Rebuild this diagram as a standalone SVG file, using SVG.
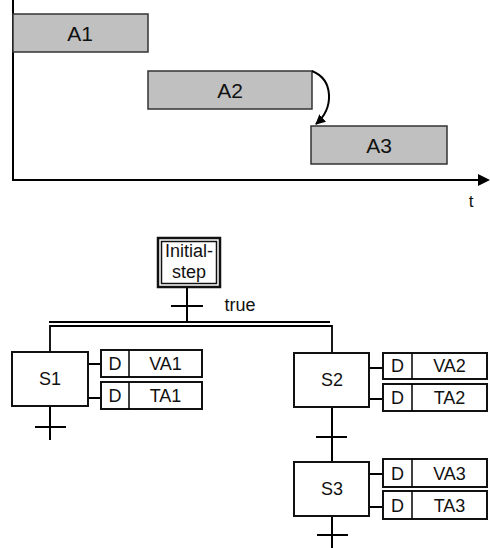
<svg xmlns="http://www.w3.org/2000/svg" width="490" height="548" viewBox="0 0 490 548">
<style>
text{font-family:"Liberation Sans",Arial,sans-serif;fill:#111;text-anchor:middle}
.bar{fill:#c0c0c0;stroke:#333;stroke-width:1.5}
.ln{stroke:#000;stroke-width:2;fill:none}
.box{fill:#fff;stroke:#111;stroke-width:2}
.big{font-size:21px}
.lb{font-size:18px}
</style>
<defs>
<marker id="ah" markerWidth="10" markerHeight="10" refX="9" refY="5" orient="auto" markerUnits="userSpaceOnUse">
<path d="M0,0 L10,5 L0,10 Z" fill="#000"/>
</marker>
</defs>
<g id="timeline">
<line class="ln" x1="13" y1="0" x2="13" y2="181"/>
<line class="ln" x1="12" y1="180" x2="482" y2="180"/>
<polygon points="478,174 490,180 478,186" fill="#000"/>
<text x="471" y="207" style="font-size:17px">t</text>
</g>
<g id="A1"><rect class="bar" x="13" y="14" width="135" height="38"/><text class="big" x="80" y="41">A1</text></g>
<g id="A2"><rect class="bar" x="148" y="71" width="164" height="38"/><text class="big" x="230" y="98">A2</text></g>
<g id="A3"><rect class="bar" x="311" y="126" width="136" height="38"/><text class="big" x="379" y="153">A3</text></g>
<g id="connectors">
<path class="ln" d="M312,71 C334,80 334,108 316,124" marker-end="url(#ah)"/>
<line class="ln" x1="187" y1="288" x2="187" y2="322"/>
<line class="ln" x1="171" y1="306" x2="203" y2="306"/>
<line class="ln" x1="49" y1="322" x2="330" y2="322"/>
<path class="ln" d="M50,352 V326 H332 V353" style="stroke-width:1.8"/>
<line class="ln" x1="50" y1="406" x2="50" y2="440"/>
<line class="ln" x1="35" y1="427" x2="66" y2="427"/>
<line class="ln" x1="332" y1="407" x2="332" y2="462"/>
<line class="ln" x1="316" y1="437" x2="347" y2="437"/>
<line class="ln" x1="332" y1="516" x2="332" y2="548"/>
<line class="ln" x1="317" y1="535" x2="348" y2="535"/>
<path class="ln" d="M88,364 H101 M88,398 H101"/>
<path class="ln" d="M369,368 H383 M369,399 H383"/>
<path class="ln" d="M369,474 H383 M369,507 H383"/>
</g>
<g id="InitialStep">
<rect x="158" y="238" width="62" height="49" fill="#fff" stroke="#111" stroke-width="2.5"/>
<rect x="161.5" y="241.5" width="55" height="42" fill="none" stroke="#111" stroke-width="1.5"/>
<text x="189" y="257" style="font-size:18px">Initial-</text>
<text x="189" y="278" style="font-size:18px">step</text>
</g>
<g id="true"><text x="240" y="311" style="font-size:18px">true</text></g>
<g id="S1"><rect class="box" x="12" y="352" width="76" height="54"/><text class="lb" x="50" y="385">S1</text></g>
<g id="VA1"><rect class="box" x="101" y="350" width="101" height="27"/><line class="ln" x1="129" y1="350" x2="129" y2="377" style="stroke-width:1.5"/><text class="lb" x="115" y="370">D</text><text class="lb" x="165.5" y="370">VA1</text></g>
<g id="TA1"><rect class="box" x="101" y="382" width="101" height="27"/><line class="ln" x1="129" y1="382" x2="129" y2="409" style="stroke-width:1.5"/><text class="lb" x="115" y="402">D</text><text class="lb" x="165.5" y="402">TA1</text></g>
<g id="S2"><rect class="box" x="294" y="353" width="75" height="54"/><text class="lb" x="332" y="386">S2</text></g>
<g id="VA2"><rect class="box" x="383" y="353" width="104" height="26"/><line class="ln" x1="412" y1="353" x2="412" y2="379" style="stroke-width:1.5"/><text class="lb" x="397.5" y="372">D</text><text class="lb" x="449.5" y="372">VA2</text></g>
<g id="TA2"><rect class="box" x="383" y="384" width="104" height="27"/><line class="ln" x1="412" y1="384" x2="412" y2="411" style="stroke-width:1.5"/><text class="lb" x="397.5" y="404">D</text><text class="lb" x="449.5" y="404">TA2</text></g>
<g id="S3"><rect class="box" x="294" y="462" width="75" height="54"/><text class="lb" x="332" y="495">S3</text></g>
<g id="VA3"><rect class="box" x="383" y="459" width="104" height="28"/><line class="ln" x1="412" y1="459" x2="412" y2="487" style="stroke-width:1.5"/><text class="lb" x="397.5" y="480">D</text><text class="lb" x="449.5" y="480">VA3</text></g>
<g id="TA3"><rect class="box" x="383" y="491" width="104" height="28"/><line class="ln" x1="412" y1="491" x2="412" y2="519" style="stroke-width:1.5"/><text class="lb" x="397.5" y="512">D</text><text class="lb" x="449.5" y="512">TA3</text></g>
</svg>
